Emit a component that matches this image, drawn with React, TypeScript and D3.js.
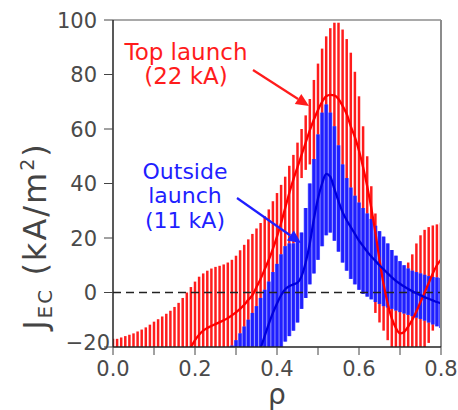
import * as d3 from 'd3';

// rho grid step shared by every series (one bar every 0.01)
const step = 0.01;

// Top launch (22 kA): error bars from rho = 0.00
const redStart = 0.0;
const redTop = [
  -17, -17, -16.5, -16, -15.5, -15, -14.3, -13.6, -12.8, -11.8,
  -10.7, -9.8, -8.8, -7.8, -6.7, -5.3, -3.8, -2, 0, 2,
  4, 5.8, 7, 8, 8.8, 9.4, 9.8, 10.3, 11, 12,
  13.5, 15.5, 17.5, 19.5, 21.5, 23.5, 25.5, 28, 30.5, 33.5,
  36.5, 39.5, 42.5, 46.5, 50.5, 55, 60, 65, 71, 78,
  84, 89.5, 94, 97, 99, 99, 96.5, 93, 88, 81,
  72, 61, 50, 39, 29, 21, 15, 10, 7, 6,
  7, 9, 11, 14, 18, 21, 23, 24, 24.6, 25, 25.6,
];
const redBottom = [
  -30, -30, -30, -30, -30, -30, -30, -30, -30, -30,
  -30, -30, -30, -30, -30, -30, -30, -30, -30, -30,
  -30, -30, -30, -30, -30, -30, -30, -30, -30, -30,
  -28, -26, -25, -24, -23, -22, -21, -20, -19, -18,
  -16, 6, 8, 10, 12, 14, 42, 45, 47, 49,
  50, 50, 49, 48, 46, 43, 39, 34, 28, 22,
  16, 10, 4, -2, -7.5, -11, -14, -17.5, -24, -28,
  -32, -31, -29, -27, -25, -23, -21, -18.5, -14, -8, -2,
];
// Top launch centre line from rho = 0.18
const redLineStart = 0.18;
const redLine = [
  -22, -20, -17.5, -15.5, -14, -13, -12.3, -11.6, -10.9, -10.2,
  -9.4, -8.4, -7.3, -6, -4.5, -2.7, -1, 2, 5, 8.5,
  12, 16, 20.5, 25.5, 31, 36.5, 41.5, 46, 50.5, 55,
  59.5, 63.5, 67, 70, 72, 72.5, 72.3, 71, 68.5, 65.5,
  61, 57, 52, 46, 39, 31, 22, 12, 3, -4,
  -9.5, -13, -15, -14.5, -12.5, -10, -7, -3.5, 0, 3.5,
  7, 10, 12,
];

// Outside launch (11 kA): error bars from rho = 0.29
const blueStart = 0.29;
const blueTop = [
  -19.5, -17.5, -15, -12.5, -10, -7.5, -5, -2, 1, 4,
  7.5, 10.5, 14, 17, 18, 18, 18.5, 22, 31, 40,
  49, 58, 66, 69, 66, 61, 54, 47, 42, 38.5,
  35.5, 33, 31, 29, 27, 24.5, 22.5, 20.5, 18, 15.6,
  13.5, 11.5, 10, 8.8, 8, 7.5, 7, 6.5, 6, 5.7,
  5.5, 5.3,
];
const blueBottom = [
  -30, -30, -30, -30, -30, -30, -30, -30, -30, -30,
  -30, -30, -30, -18, -16, -14, -11, -6, -2, 3,
  7, 12, 17, 21, 22, 19, 15, 11, 8, 5,
  3, 1, -0.5, -1.5, -2.5, -3.5, -4.2, -5, -5.5, -6,
  -6.6, -7.2, -7.7, -8.2, -8.7, -9.2, -9.7, -10.3, -11, -11.7,
  -12.4, -13,
];
// Outside launch centre line from rho = 0.35
const blueLineStart = 0.35;
const blueLine = [
  -25, -20.5, -16, -11.5, -7.5, -4, -1, 1.2, 2.3, 3,
  3.6, 6, 11, 18, 27, 34.5, 40, 43.5, 42.5, 38,
  33.5, 29.5, 26.5, 24, 21.5, 19, 17, 15, 13.2, 11.6,
  10, 8.5, 7, 5.6, 4.3, 3.2, 2.2, 1.3, 0.5, -0.3,
  -1, -1.7, -2.3, -2.9, -3.5, -4,
];

const xTicks = [0, 0.1, 0.2, 0.3, 0.4, 0.5, 0.6, 0.7, 0.8];
const xLabels = [0, 0.2, 0.4, 0.6, 0.8];
const yTicks = [-20, 0, 20, 40, 60, 80, 100];

const RED = '#ff1c1c';
const BLUE = '#1f1fff';
const FONT = '"DejaVu Sans", sans-serif';

const x = d3.scaleLinear().domain([0, 0.8]).range([113, 441]);
const y = d3.scaleLinear().domain([-20, 100]).range([347, 20]);

const toPoints = (start: number, vals: number[]) =>
  vals.map((v, i) => [start + i * step, v] as [number, number]);

const line = d3.line<[number, number]>()
  .x(d => x(d[0]))
  .y(d => y(d[1]))
  .curve(d3.curveMonotoneX);

function Arrow({ x1, y1, x2, y2, color }: { x1: number; y1: number; x2: number; y2: number; color: string }) {
  const a = Math.atan2(y2 - y1, x2 - x1);
  const len = 13, half = 6;
  const bx = x2 - len * Math.cos(a), by = y2 - len * Math.sin(a);
  const p1 = [bx + half * Math.sin(a), by - half * Math.cos(a)];
  const p2 = [bx - half * Math.sin(a), by + half * Math.cos(a)];
  return (
    <g>
      <line x1={x1} y1={y1} x2={bx} y2={by} stroke={color} strokeWidth={2.2} />
      <polygon points={`${x2},${y2} ${p1[0]},${p1[1]} ${p2[0]},${p2[1]}`} fill={color} />
    </g>
  );
}

export default function App() {
  const [x0, x1] = x.range();
  const [y0, y1] = y.range();
  return (
    <div style={{ position: 'absolute', left: 0, top: 0 }}>
      <svg width={458} height={410} style={{ display: 'block', background: '#fff' }}>
        <defs>
          <clipPath id="plot">
            <rect x={x0} y={y1} width={x1 - x0} height={y0 - y1} />
          </clipPath>
        </defs>

        <g clipPath="url(#plot)">
          {toPoints(redStart, redTop).map(([r, t], i) => (
            <line key={'r' + i} x1={x(r)} x2={x(r)} y1={y(t)} y2={y(redBottom[i])}
              stroke={RED} strokeWidth={2.5} />
          ))}
          {toPoints(blueStart, blueTop).map(([r, t], i) => (
            <line key={'bb' + i} x1={x(r)} x2={x(r)} y1={y(t)} y2={y(blueBottom[i])}
              stroke="#7c7cff" strokeWidth={4.1} />
          ))}
          {toPoints(blueStart, blueTop).map(([r, t], i) => (
            <line key={'b' + i} x1={x(r)} x2={x(r)} y1={y(t)} y2={y(blueBottom[i])}
              stroke={BLUE} strokeWidth={2.9} />
          ))}
          <line x1={x0} x2={x1} y1={y(0)} y2={y(0)} stroke="#222" strokeWidth={1.6}
            strokeDasharray="8,5" />
          <path d={line(toPoints(redLineStart, redLine)) || ''} fill="none" stroke="#ff0000" strokeWidth={2.3} />
          <path d={line(toPoints(blueLineStart, blueLine)) || ''} fill="none" stroke="#0000dc" strokeWidth={2.3} />
        </g>

        {/* frame */}
        <line x1={x0} x2={x1} y1={y1} y2={y1} stroke="#8c8c8c" strokeWidth={1.5} />
        <line x1={x1} x2={x1} y1={y1} y2={y0} stroke="#8c8c8c" strokeWidth={2} />
        <line x1={x0} x2={x1} y1={y0} y2={y0} stroke="#222" strokeWidth={1.5} />
        <line x1={x0} x2={x0} y1={y1} y2={y0} stroke="#222" strokeWidth={1.5} />

        {/* x axis */}
        {xTicks.map(t => (
          <line key={'xt' + t} x1={x(t)} x2={x(t)} y1={y0} y2={y0 + 8} stroke="#444" strokeWidth={1} />
        ))}
        {xLabels.map(t => (
          <text key={'xl' + t} x={x(t)} y={376} textAnchor="middle" fontFamily={FONT}
            fontSize={21} fill="#4a4a4a">{d3.format('.1f')(t)}</text>
        ))}
        <text x={x(0.4)} y={404} textAnchor="middle" fontFamily={FONT} fontSize={28} fill="#444">ρ</text>

        {/* y axis */}
        {yTicks.map(t => (
          <line key={'yt' + t} x1={x0 - 9} x2={x0} y1={y(t)} y2={y(t)} stroke="#444" strokeWidth={1} />
        ))}
        {yTicks.map(t => (
          <text key={'yl' + t} x={t === -20 ? 110 : 97} y={y(t) + (t === -20 ? 3 : 7.5)} textAnchor="end"
            fontFamily={FONT} fontSize={21} fill="#4a4a4a">{t < 0 ? '\u2212' + Math.abs(t) : t}</text>
        ))}
        <text transform="translate(46,236) rotate(-90)" textAnchor="middle" fontFamily={FONT}
          fontSize={32} fill="#444" letterSpacing={2}>
          J<tspan fontSize={20} dy={6}>EC</tspan><tspan dy={-6}> (kA/m</tspan>
          <tspan fontSize={19} dy={-12}>2</tspan><tspan dy={12}>)</tspan>
        </text>

        {/* annotations */}
        <text x={186} y={60} textAnchor="middle" fontFamily={FONT} fontSize={23} fill={RED}>Top launch</text>
        <text x={186} y={84} textAnchor="middle" fontFamily={FONT} fontSize={23} fill={RED}>(22 kA)</text>
        <Arrow x1={253} y1={70} x2={309} y2={106} color={RED} />
        <text x={185} y={179} textAnchor="middle" fontFamily={FONT} fontSize={22} fill={BLUE}>Outside</text>
        <text x={185} y={203} textAnchor="middle" fontFamily={FONT} fontSize={22} fill={BLUE}>launch</text>
        <text x={185} y={228} textAnchor="middle" fontFamily={FONT} fontSize={22} fill={BLUE}>(11 kA)</text>
        <Arrow x1={237} y1={198} x2={301} y2={243} color={BLUE} />
      </svg>
    </div>
  );
}
